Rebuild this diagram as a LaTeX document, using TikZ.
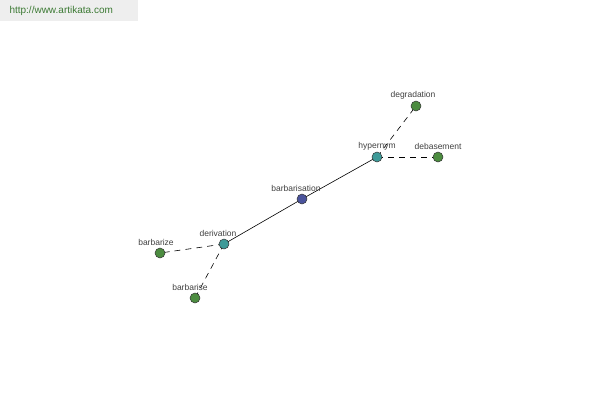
\documentclass[tikz,border=0pt]{standalone}
\usepackage{fontspec}
\setmainfont{Liberation Sans}
\definecolor{hdrgray}{HTML}{EEEEEE}
\definecolor{hdrgreen}{HTML}{3C7A34}
\definecolor{rootblue}{HTML}{4A539C}
\definecolor{relteal}{HTML}{3E9A98}
\definecolor{leafgreen}{HTML}{4C8C40}
\begin{document}
\begin{tikzpicture}[x=1pt,y=-1pt,
    word/.style={circle,draw=black!80,line width=0.5pt,minimum size=10pt,inner sep=0pt},
    rootword/.style={word,fill=rootblue},
    relword/.style={word,fill=relteal},
    leafword/.style={word,fill=leafgreen},
    lbl/.style={font=\fontsize{8.5}{9}\selectfont,text=black!75,inner sep=1pt,label distance=0.5pt},
    rel/.style={dashed,dash pattern=on 6pt off 5pt,line width=0.6pt},
    link/.style={line width=0.6pt}]
  \useasboundingbox (0,0) rectangle (600,400);
  % header
  \fill[hdrgray] (0,0) rectangle (138,21);
  \node[anchor=west,text=hdrgreen,font=\fontsize{10}{11}\selectfont] (site) at (6,11) {http://www.artikata.com};
  % links
  \coordinate (pbarbarisation) at (302,199);
  \coordinate (phypernym) at (377,157);
  \coordinate (pderivation) at (224,244);
  \draw[link] (pderivation) -- (pbarbarisation) -- (phypernym);
  \draw[rel] (phypernym) -- (416,106) coordinate (pdegradation);
  \draw[rel] (phypernym) -- (438,157) coordinate (pdebasement);
  \draw[rel] (pderivation) -- (160,253) coordinate (pbarbarize);
  \draw[rel] (pderivation) -- (195,298) coordinate (pbarbarise);
  % nodes
  \node[rootword,label={[lbl,xshift=-6pt]above:barbarisation}] (barbarisation) at (pbarbarisation) {};
  \node[relword,label={[lbl]above:hypernym}] (hypernym) at (phypernym) {};
  \node[relword,label={[lbl,xshift=-6pt]above:derivation}] (derivation) at (pderivation) {};
  \node[leafword,label={[lbl,xshift=-3pt]above:degradation}] (degradation) at (pdegradation) {};
  \node[leafword,label={[lbl]above:debasement}] (debasement) at (pdebasement) {};
  \node[leafword,label={[lbl,xshift=-4pt]above:barbarize}] (barbarize) at (pbarbarize) {};
  \node[leafword,label={[lbl,xshift=-5pt]above:barbarise}] (barbarise) at (pbarbarise) {};
\end{tikzpicture}
\end{document}
